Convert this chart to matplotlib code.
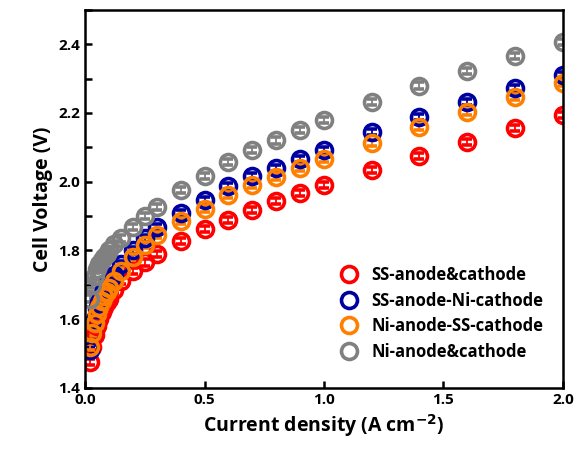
import numpy as np
import matplotlib
matplotlib.use("Agg")
import matplotlib.pyplot as plt
from matplotlib.lines import Line2D
from matplotlib.ticker import MultipleLocator

plt.rcParams['font.family'] = ['Open Sans', 'DejaVu Sans']
plt.rcParams['font.weight'] = 'bold'

# current density (A cm-2)
j = [0.02, 0.03, 0.04, 0.05, 0.06, 0.07, 0.08, 0.09, 0.10, 0.12, 0.15,
     0.20, 0.25, 0.30, 0.40, 0.50, 0.60, 0.70, 0.80, 0.90, 1.00,
     1.20, 1.40, 1.60, 1.80, 2.00]

# cell voltage (V)
v_ss_ss = [1.475, 1.52, 1.555, 1.58, 1.60, 1.62, 1.635, 1.65, 1.66, 1.685, 1.71,
           1.74, 1.765, 1.79, 1.827, 1.862, 1.888, 1.917, 1.944, 1.968, 1.99,
           2.034, 2.074, 2.115, 2.156, 2.194]
v_ss_ni = [1.51, 1.56, 1.60, 1.63, 1.65, 1.67, 1.685, 1.70, 1.71, 1.73, 1.76,
           1.80, 1.835, 1.868, 1.91, 1.946, 1.987, 2.016, 2.04, 2.066, 2.092,
           2.144, 2.188, 2.231, 2.272, 2.31]
v_ni_ss = [1.52, 1.56, 1.59, 1.615, 1.635, 1.652, 1.668, 1.68, 1.69, 1.71, 1.74,
           1.78, 1.815, 1.845, 1.885, 1.922, 1.962, 1.99, 2.015, 2.04, 2.066,
           2.112, 2.159, 2.202, 2.246, 2.287]
v_ni_ni = [1.66, 1.70, 1.725, 1.745, 1.76, 1.772, 1.782, 1.79, 1.80, 1.818, 1.835,
           1.868, 1.90, 1.926, 1.976, 2.016, 2.057, 2.092, 2.12, 2.15, 2.18,
           2.231, 2.28, 2.322, 2.365, 2.406]
v_err = 0.009

labels = ['SS-anode&cathode', 'SS-anode-Ni-cathode',
          'Ni-anode-SS-cathode', 'Ni-anode&cathode']
colors = ['#ff0000', '#0000a0', '#ff8000', '#808080']
series = [v_ss_ss, v_ss_ni, v_ni_ss, v_ni_ni]

fig = plt.figure(figsize=(5.79, 4.5), dpi=100)
ax = fig.add_axes([0.147, 0.138, 0.825, 0.84])

for v, c in zip(series, colors):
    ax.errorbar(j, v, yerr=v_err, fmt='o', ms=11.5, mfc='none', mec=c, mew=2.6,
                ecolor=c, elinewidth=1.3, capsize=3.5, capthick=1.3)

ax.set_xlim(0, 2.0)
ax.set_ylim(1.4, 2.5)
ax.xaxis.set_major_locator(MultipleLocator(0.5))
ax.yaxis.set_major_locator(MultipleLocator(0.2))
ax.yaxis.set_minor_locator(MultipleLocator(0.1))
ax.tick_params(which='both', direction='in', length=5, width=1.8, labelsize=11)
for s in ax.spines.values():
    s.set_linewidth(1.8)

ax.set_xlabel('Current density (A cm$^{\\mathbf{-2}}$)', fontsize=14, fontweight='bold')
ax.set_ylabel('Cell Voltage (V)', fontsize=14, fontweight='bold')

handles = [Line2D([], [], ls='none', marker='o', ms=11.5, mfc='none', mec=c, mew=2.6)
           for c in colors]
ax.legend(handles, labels, loc='lower right', bbox_to_anchor=(0.99, 0.032),
          frameon=False, fontsize=12, handletextpad=0.5, labelspacing=0.45,
          handlelength=1.6)

fig.savefig('out.png', dpi=100)
